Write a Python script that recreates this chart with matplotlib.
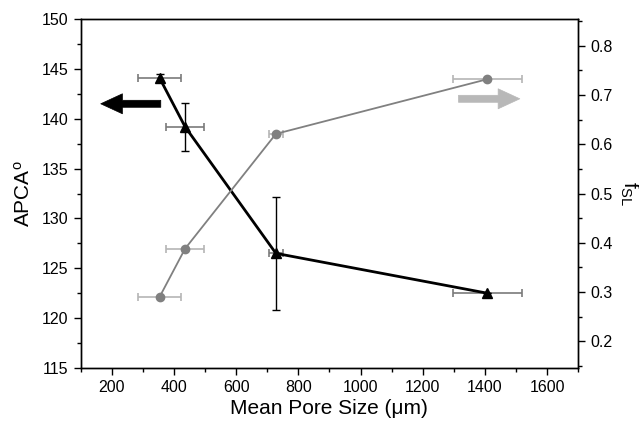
import matplotlib.pyplot as plt
from matplotlib.ticker import MultipleLocator

plt.rcParams['font.family'] = ['Liberation Sans', 'DejaVu Sans']
plt.rcParams['mathtext.fontset'] = 'custom'
plt.rcParams['mathtext.rm'] = 'Liberation Sans'
plt.rcParams['mathtext.it'] = 'Liberation Sans:italic'

# mean pore size (um) and its spread
pore_size = [354, 436, 728, 1408]
pore_err = [68, 60, 22, 110]

# APCA (deg), left axis
apca = [144.1, 139.2, 126.5, 122.5]
apca_err = [0.4, 2.4, 5.7, 0.0]

# f_SL, right axis
f_sl = [0.290, 0.388, 0.621, 0.732]
f_sl_err = [0.0, 0.0, 0.0, 0.0]

fig = plt.figure(figsize=(6.39, 4.23), dpi=100)
ax = fig.add_axes([0.126, 0.130, 0.779, 0.825])
ax2 = ax.twinx()

# APCA series: black line, grey x-bars, black y-bars
ax.errorbar(pore_size, apca, xerr=pore_err, fmt='none', ecolor='#7a7a7a',
            elinewidth=1.2, capsize=3, capthick=1.2, zorder=2)
ax.errorbar(pore_size, apca, yerr=apca_err, fmt='none', ecolor='black',
            elinewidth=1.0, capsize=3, capthick=1.0, zorder=3)
ax.plot(pore_size, apca, color='black', lw=2, marker='^', ms=7, zorder=4)

# f_SL series: grey line with light grey error bars
ax2.errorbar(pore_size, f_sl, xerr=pore_err, yerr=f_sl_err, fmt='none',
             ecolor='#b5b5b5', elinewidth=1.2, capsize=3, capthick=1.2, zorder=2)
ax2.plot(pore_size, f_sl, color='#808080', lw=1.3, marker='o', ms=6, zorder=3)

# axis arrows
arrow_style = 'simple,tail_width=0.42,head_width=1.2,head_length=1.3'
ax.annotate('', xy=(165, 141.5), xytext=(358, 141.5),
            arrowprops=dict(arrowstyle=arrow_style, mutation_scale=12,
                            fc='black', ec='black', lw=0.5,
                            shrinkA=0, shrinkB=0))
ax.annotate('', xy=(1512, 142.0), xytext=(1315, 142.0),
            arrowprops=dict(arrowstyle=arrow_style, mutation_scale=12,
                            fc='#b8b8b8', ec='#b8b8b8', lw=0.5,
                            shrinkA=0, shrinkB=0))

ax.set_xlim(100, 1700)
ax.set_ylim(115, 150)
ax2.set_ylim(0.146, 0.854)

ax.xaxis.set_major_locator(MultipleLocator(200))
ax.xaxis.set_minor_locator(MultipleLocator(100))
ax.yaxis.set_major_locator(MultipleLocator(5))
ax.yaxis.set_minor_locator(MultipleLocator(2.5))
ax2.yaxis.set_major_locator(MultipleLocator(0.1))
ax2.yaxis.set_minor_locator(MultipleLocator(0.05))

for a in (ax, ax2):
    a.tick_params(which='major', direction='out', length=5, width=1, labelsize=11.5)
    a.tick_params(which='minor', direction='out', length=3, width=1)
    for s in a.spines.values():
        s.set_linewidth(1)

ax.set_xlabel('Mean Pore Size (\u03bcm)', fontsize=15, labelpad=3)
ax.set_ylabel('APCA$^\\mathrm{o}$', fontsize=15, labelpad=6)
ax2.set_ylabel('f$_{\\mathrm{SL}}$', fontsize=15, rotation=270, labelpad=20)

fig.savefig('out.png', dpi=100)
